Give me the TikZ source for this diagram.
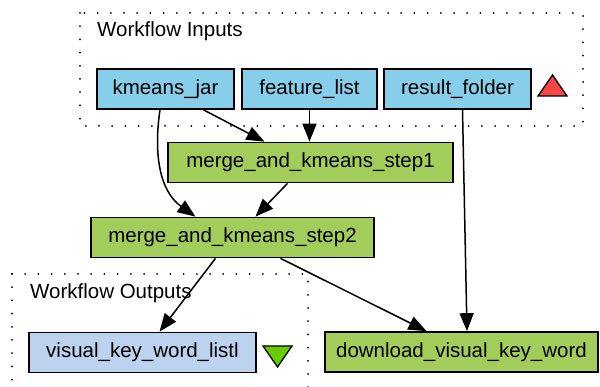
\documentclass[tikz,border=0pt]{standalone}
\usepackage{fontspec}
\setmainfont{Liberation Sans}
\usetikzlibrary{arrows.meta}

\definecolor{inputblue}{HTML}{87CEEB}
\definecolor{procgreen}{HTML}{A2CD5A}
\definecolor{outputblue}{HTML}{BCD2EE}
\definecolor{porttri}{HTML}{F94545}
\definecolor{outtri}{HTML}{66CD00}

\tikzset{
  box/.style={draw=black, line width=1.7pt, minimum height=40pt, inner sep=0pt,
              font=\fontsize{20.5}{24}\selectfont},
  inbox/.style={box, fill=inputblue},
  procbox/.style={box, fill=procgreen},
  outbox/.style={box, fill=outputblue},
  cluster/.style={draw=black, line width=2pt, line cap=round,
                  dash pattern=on 0pt off 13.2pt},
  flow/.style={line width=1.5pt, -{Triangle[length=18pt,width=14pt]}},
  caption/.style={anchor=west, inner sep=0pt, font=\fontsize{20.5}{24}\selectfont},
}

\begin{document}
\begin{tikzpicture}[x=1pt, y=-1pt]
  \useasboundingbox (0,0) rectangle (600,387);
  \fill[white] (0,0) rectangle (600,387);

  % clusters
  \draw[cluster] (80,13) rectangle (583,126);
  \draw[cluster] (12,274) -- (308,274) -- (308,395);
  \draw[cluster] (12,274) -- (12,395);
  \node[caption] (inlabel) at (97,31) {Workflow Inputs};
  \node[caption] (outlabel) at (30,293) {Workflow Outputs};

  % input ports
  \node[inbox, minimum width=137pt] (kj) at (165.5,89) {kmeans\_jar};
  \node[inbox, minimum width=135pt] (fl) at (309.5,89) {feature\_list};
  \node[inbox, minimum width=147pt] (rf) at (457.5,89) {result\_folder};

  % processors
  \node[procbox, minimum width=285pt] (s1) at (310.5,162.5) {merge\_and\_kmeans\_step1};
  \node[procbox, minimum width=283pt] (s2) at (232.5,237.5) {merge\_and\_kmeans\_step2};
  \node[procbox, minimum width=273pt] (dl) at (461.5,352) {download\_visual\_key\_word};

  % output port
  \node[outbox, minimum width=227pt] (vk) at (142.5,352.5) {visual\_key\_word\_listl};

  % port markers
  \draw[line width=1.3pt, fill=porttri] (538,96) -- (567,96) -- (552.5,75) -- cycle;
  \draw[line width=1.3pt, fill=outtri] (263,346) -- (292,346) -- (277.5,367) -- cycle;

  % data links
  \draw[flow] ([xshift=-5.5pt]kj.south) .. controls (154,150) and (158,190) .. ([xshift=-37pt]s2.north);
  \draw[flow] ([xshift=38pt]kj.south) -- ([xshift=-46pt]s1.north);
  \draw[flow] (fl.south) -- (s1.north -| fl.south);
  \draw[flow] ([xshift=5pt]rf.south) -- ([xshift=5.5pt]dl.north);
  \draw[flow] ([xshift=-23pt]s1.south) -- ([xshift=23pt]s2.north);
  \draw[flow] ([xshift=-17pt]s2.south) -- ([xshift=17pt]vk.north);
  \draw[flow] ([xshift=48pt]s2.south) -- ([xshift=-35pt]dl.north);
\end{tikzpicture}
\end{document}
